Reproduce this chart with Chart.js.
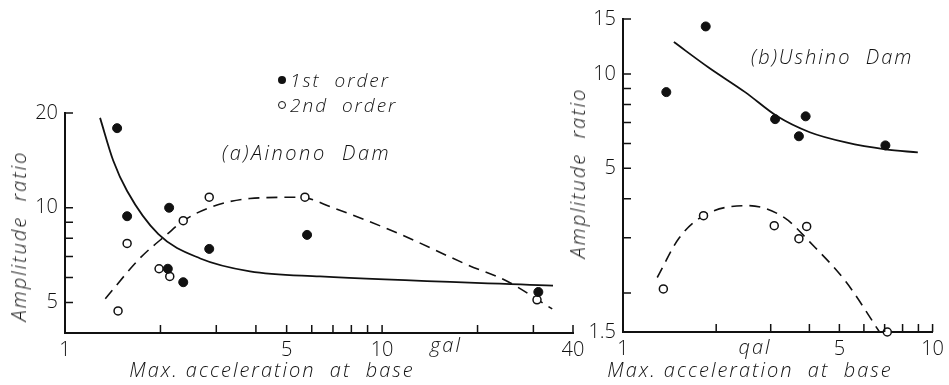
<!DOCTYPE html>
<html>
<head>
<meta charset="utf-8">
<script src="https://cdn.jsdelivr.net/npm/chart.js@4/dist/chart.umd.min.js"></script>
<style>
  body { margin: 0; background: #fff; }
  #page { position: relative; width: 949px; height: 385px; overflow: hidden; }
  #wrap_a, #wrap_b { position: absolute; top: 0; height: 385px; }
  #wrap_a { left: 0; width: 600px; }
  #wrap_b { left: 580px; width: 369px; }
  .txt {
    position: absolute; color: #111; white-space: nowrap; line-height: 1;
    font-family: "Open Sans", sans-serif; font-style: italic; font-weight: 300;
    font-size: 20px; letter-spacing: 2px;
  }
  .mid { transform: translate(-50%, -50%); }
  .left { transform: translateY(-50%); }
  .vert { transform: translate(-50%, -50%) rotate(-90deg); }
  .dot { position: absolute; width: 8px; height: 8px; border-radius: 50%; box-sizing: border-box; transform: translate(-50%, -50%); }
  .dot.fill { background: #111; }
  .dot.open { border: 1.5px solid #111; background: #fff; }
  #log { position: absolute; left: 5px; top: 5px; font: 11px monospace; color: red; width: 940px; }
</style>
</head>
<body>
<div id="page">
  <div id="wrap_a"><canvas id="chart_a" width="600" height="385"></canvas></div>
  <div id="wrap_b"><canvas id="chart_b" width="369" height="385"></canvas></div>

  <div class="dot fill" style="left:282px; top:80px"></div>
  <div class="txt left" style="left:290px; top:80px; font-size:19px">1st&nbsp; order</div>
  <div class="dot open" style="left:282px; top:105px"></div>
  <div class="txt left" style="left:290px; top:105px; font-size:19px">2nd&nbsp; order</div>
  <div class="txt left" style="left:222px; top:153px; letter-spacing:2.5px">(a)Ainono&nbsp; Dam</div>
  <div class="txt left" style="left:751px; top:57px">(b)Ushino&nbsp; Dam</div>

  <div class="txt vert" style="left:19px; top:236px">Amplitude&nbsp; ratio</div>
  <div class="txt vert" style="left:578px; top:173px">Amplitude&nbsp; ratio</div>
  <div class="txt mid" style="left:272px; top:370px">Max. acceleration&nbsp; at&nbsp; base</div>
  <div class="txt mid" style="left:750px; top:370px">Max. acceleration&nbsp; at&nbsp; base</div>
  <div class="txt mid" style="left:446px; top:345px">gal</div>
  <div class="txt mid" style="left:755px; top:347px">qal</div>
  <div id="log"></div>
</div>

<script>
const errs = [];
window.addEventListener("error", (e) => {
  errs.push("ERR " + e.message + " @" + e.lineno);
  document.getElementById("log").textContent = errs.join(" | ");
});

// (a) Ainono Dam
const ainono_first_x = [1.46, 1.57, 2.13, 2.11, 2.36, 2.85, 5.80, 31.1];
const ainono_first_y = [17.9, 9.4, 10.0, 6.4, 5.8, 7.4, 8.2, 5.4];
const ainono_second_x = [1.47, 1.57, 1.98, 2.14, 2.36, 2.85, 5.71, 30.8];
const ainono_second_y = [4.7, 7.7, 6.4, 6.05, 9.1, 10.8, 10.8, 5.1];
const ainono_fit1_x = [1.29, 1.42, 1.57, 1.97, 2.67, 3.83, 6.37, 34.6];
const ainono_fit1_y = [19.3, 14.1, 11.3, 8.24, 6.9, 6.28, 6.05, 5.66];
const ainono_fit2_x = [1.34, 1.72, 2.10, 2.36, 2.85, 3.83, 5.5, 7.0, 11.4, 18.5, 24.8, 34.4];
const ainono_fit2_y = [5.14, 6.9, 8.24, 9.08, 10.0, 10.7, 10.8, 10.0, 8.24, 6.6, 5.84, 4.77];

// (b) Ushino Dam
const ushino_first_x = [1.38, 1.85, 3.10, 3.70, 3.89, 7.04];
const ushino_first_y = [8.76, 14.2, 7.18, 6.33, 7.33, 5.92];
const ushino_second_x = [1.35, 1.82, 3.08, 3.70, 3.92, 7.14];
const ushino_second_y = [2.06, 3.53, 3.28, 2.98, 3.26, 1.5];
const ushino_fit1_x = [1.46, 1.89, 2.48, 3.15, 4.01, 5.25, 7.04, 8.96];
const ushino_fit1_y = [12.66, 10.5, 8.76, 7.33, 6.52, 6.05, 5.75, 5.62];
const ushino_fit2_x = [1.29, 1.52, 1.85, 2.53, 3.32, 4.01, 5.25, 6.77];
const ushino_fit2_y = [2.24, 3.0, 3.56, 3.80, 3.48, 2.91, 2.17, 1.49];

// tick positions and which of them carry a number
const a_ticks_x = [1, 2, 3, 4, 5, 6, 7, 8, 9, 10, 20, 30, 40];
const a_labels_x = [1, 5, 10, 40];
const a_ticks_y = [5, 6, 7, 8, 9, 10, 20];
const a_labels_y = [5, 10, 20];
const b_ticks_x = [1, 2, 3, 4, 5, 6, 7, 8, 9, 10];
const b_labels_x = [1, 5, 10];
const b_ticks_y = [1.5, 2, 3, 4, 5, 6, 7, 8, 9, 10, 15];
const b_labels_y = [1.5, 5, 10, 15];

const INK = "#111";
const TICK_LEN = 8;

function pairs(xs, ys) {
  return xs.map((x, i) => ({ x: x, y: ys[i] }));
}

// short tick marks pointing into the plot, placed by each scale
const inward_ticks = {
  id: "inward_ticks",
  afterDraw(chart) {
    try {
      const ctx = chart.ctx;
      const area = chart.chartArea;
      const sx = chart.scales.x;
      const sy = chart.scales.y;
      ctx.save();
      ctx.setLineDash([]);
      ctx.globalAlpha = 1;
      ctx.globalCompositeOperation = "source-over";
      ctx.strokeStyle = INK;
      ctx.lineWidth = 1.5;
      ctx.beginPath();
      for (const t of sx.ticks) {
        const p = sx.getPixelForValue(t.value);
        ctx.moveTo(p, area.bottom);
        ctx.lineTo(p, area.bottom - TICK_LEN);
      }
      for (const t of sy.ticks) {
        const p = sy.getPixelForValue(t.value);
        ctx.moveTo(area.left, p);
        ctx.lineTo(area.left + TICK_LEN, p);
      }
      ctx.stroke();
      ctx.restore();
    } catch (e) {
      errs.push("TICKS " + e);
      document.getElementById("log").textContent = errs.join(" | ");
    }
    chart.$ticked = true;
  },
};

function log_axis(min, max, tick_vals, label_vals, size, horizontal) {
  return {
    type: "logarithmic",
    min: min,
    max: max,
    grid: { display: false, drawTicks: false },
    border: { display: true, color: INK, width: 2 },
    ticks: {
      autoSkip: false,
      maxRotation: 0,
      padding: horizontal ? 5 : 7,
      color: INK,
      font: { family: "'Open Sans', sans-serif", size: 20, weight: 300 },
      callback: (v) => (label_vals.includes(v) ? String(v) : ""),
    },
    afterBuildTicks: (scale) => {
      scale.ticks = tick_vals.map((v) => ({ value: v }));
    },
    afterFit: (scale) => {
      if (horizontal) scale.height = size;
      else scale.width = size;
    },
  };
}

function make_datasets(fx, fy, sx, sy, l1x, l1y, l2x, l2y) {
  return [
    {
      data: pairs(fx, fy), pointRadius: 4.5, backgroundColor: INK,
      borderColor: INK, borderWidth: 1, showLine: false, clip: false,
    },
    {
      data: pairs(sx, sy), pointRadius: 4, backgroundColor: "#fff",
      borderColor: INK, borderWidth: 1.5, showLine: false, clip: false,
    },
    {
      data: pairs(l1x, l1y), showLine: true, pointRadius: 0,
      borderColor: INK, borderWidth: 1.8, cubicInterpolationMode: "monotone",
    },
    {
      data: pairs(l2x, l2y), showLine: true, pointRadius: 0,
      borderColor: INK, borderWidth: 1.6, borderDash: [11, 7],
      cubicInterpolationMode: "monotone",
    },
  ];
}

function make_chart(id, datasets, padding, x_axis, y_axis) {
  return new Chart(document.getElementById(id).getContext("2d"), {
    type: "scatter",
    data: { datasets: datasets },
    options: {
      responsive: false,
      animation: false,
      layout: { padding: padding },
      plugins: { legend: { display: false }, tooltip: { enabled: false } },
      scales: { x: x_axis, y: y_axis },
    },
    plugins: [inward_ticks],
  });
}

const chart_a = make_chart(
  "chart_a",
  make_datasets(ainono_first_x, ainono_first_y, ainono_second_x, ainono_second_y,
    ainono_fit1_x, ainono_fit1_y, ainono_fit2_x, ainono_fit2_y),
  { left: 0, top: 113, right: 27, bottom: 0 },
  log_axis(1, 40, a_ticks_x, a_labels_x, 52, true),
  log_axis(4, 20, a_ticks_y, a_labels_y, 65, false)
);

const chart_b = make_chart(
  "chart_b",
  make_datasets(ushino_first_x, ushino_first_y, ushino_second_x, ushino_second_y,
    ushino_fit1_x, ushino_fit1_y, ushino_fit2_x, ushino_fit2_y),
  { left: 0, top: 16, right: 11, bottom: 0 },
  log_axis(1, 10, b_ticks_x, b_labels_x, 53, true),
  log_axis(1.5, 15, b_ticks_y, b_labels_y, 43, false)
);

if (!chart_a.$ticked || !chart_b.$ticked) {
  errs.push("afterDraw a=" + !!chart_a.$ticked + " b=" + !!chart_b.$ticked);
  document.getElementById("log").textContent = errs.join(" | ");
}
</script>
</body>
</html>
